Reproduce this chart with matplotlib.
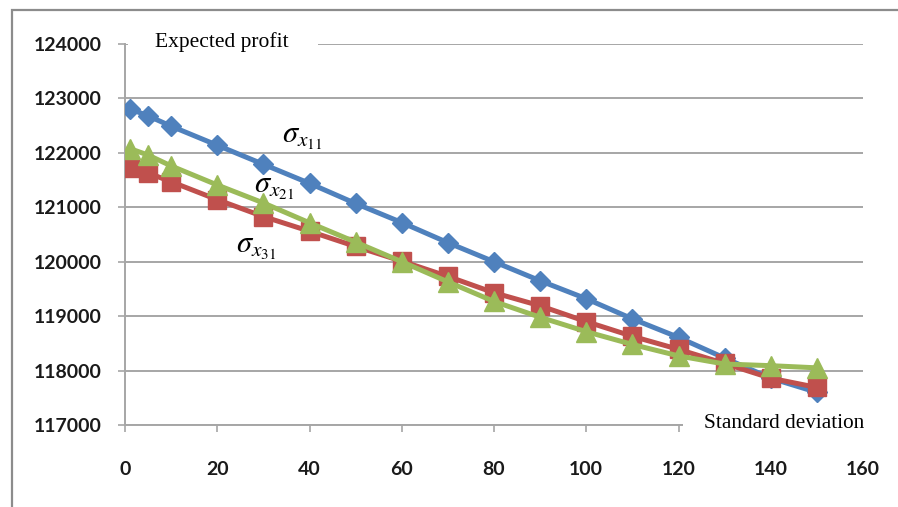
import matplotlib
matplotlib.use('Agg')
import matplotlib.pyplot as plt
from matplotlib.patches import Rectangle
from matplotlib.font_manager import FontProperties

plt.rcParams['mathtext.fontset'] = 'stix'

# standard deviation values on the x axis
sigma = [1, 5, 10, 20, 30, 40, 50, 60, 70, 80, 90, 100, 110, 120, 130, 140, 150]

# expected profit for each varied standard deviation
profit_x11 = [122810, 122680, 122490, 122140, 121790, 121440, 121070, 120720, 120350,
              120000, 119650, 119320, 118950, 118610, 118230, 117860, 117600]
profit_x31 = [121720, 121630, 121470, 121140, 120830, 120560, 120280, 120010, 119730,
              119430, 119190, 118900, 118630, 118390, 118130, 117860, 117690]
profit_x21 = [122080, 121960, 121760, 121410, 121080, 120715, 120360, 120000, 119630,
              119270, 118980, 118715, 118480, 118270, 118120, 118090, 118050]

x_ticks = [0, 20, 40, 60, 80, 100, 120, 140, 160]
y_ticks = [117000, 118000, 119000, 120000, 121000, 122000, 123000, 124000]

W, H = 898, 507
fig = plt.figure(figsize=(W / 100, H / 100), dpi=100)

# chart area frame
fig.patches.append(Rectangle((12 / W, -0.1), 1.2, 1 - 10 / H + 0.1, transform=fig.transFigure,
                             facecolor='none', edgecolor='#8c8c8c', linewidth=1.6))

ax = fig.add_axes([125 / W, 1 - 425 / H, (863 - 125) / W, (425 - 44) / H])

grid_c = '#a6a6a6'
ax.plot(sigma, profit_x11, color='#4F81BD', lw=3.6, marker='D', ms=10, zorder=3)
ax.plot(sigma, profit_x31, color='#C0504D', lw=3.6, marker='s', ms=12.5, zorder=4)
ax.plot(sigma, profit_x21, color='#9BBB59', lw=3.6, marker='^', ms=14, zorder=5)

ax.set_xlim(0, 160)
ax.set_ylim(117000, 124000)
ax.set_xticks(x_ticks)
ax.set_yticks(y_ticks)
ax.grid(axis='y', color=grid_c, lw=1.4)
ax.set_axisbelow(True)

for s in ['top', 'right']:
    ax.spines[s].set_visible(False)
for s in ['left', 'bottom']:
    ax.spines[s].set_color(grid_c)
    ax.spines[s].set_linewidth(1.4)

tick_font = FontProperties(family=['Lato', 'DejaVu Sans'], weight='bold', size=14)
ax.tick_params(axis='both', color=grid_c, width=1.2, length=5, direction='out')
ax.tick_params(axis='y', pad=12)
ax.tick_params(axis='x', pad=21)
for lab in ax.get_xticklabels() + ax.get_yticklabels():
    lab.set_fontproperties(tick_font)
    lab.set_color('#1a1a1a')

serif = ['Liberation Serif', 'DejaVu Serif']
# white strips hide the gridline / axis line behind the two axis titles
ax.add_patch(Rectangle((128 / W, 1 - 52 / H), (318 - 128) / W, 16 / H, transform=fig.transFigure,
                       facecolor='white', edgecolor='none', zorder=5, clip_on=False))
ax.add_patch(Rectangle((683 / W, 1 - 440 / H), (898 - 683) / W, 28 / H, transform=fig.transFigure,
                       facecolor='white', edgecolor='none', zorder=5, clip_on=False))
ax.text(155 / W, 1 - 42 / H, 'Expected profit', transform=fig.transFigure, family=serif,
        fontsize=15.5, va='center', ha='left', zorder=6)
ax.text(704 / W, 1 - 424 / H, 'Standard deviation', transform=fig.transFigure, family=serif,
        fontsize=15.3, va='center', ha='left', zorder=6)

sig_kw = dict(transform=fig.transFigure, fontsize=22, ha='left', va='baseline', zorder=6)
ax.text(282 / W, 1 - 143 / H, r'$\sigma_{x_{11}}$', **sig_kw)
ax.text(254 / W, 1 - 193 / H, r'$\sigma_{x_{21}}$', **sig_kw)
ax.text(236 / W, 1 - 253 / H, r'$\sigma_{x_{31}}$', **sig_kw)

fig.savefig('out.png', dpi=100)
